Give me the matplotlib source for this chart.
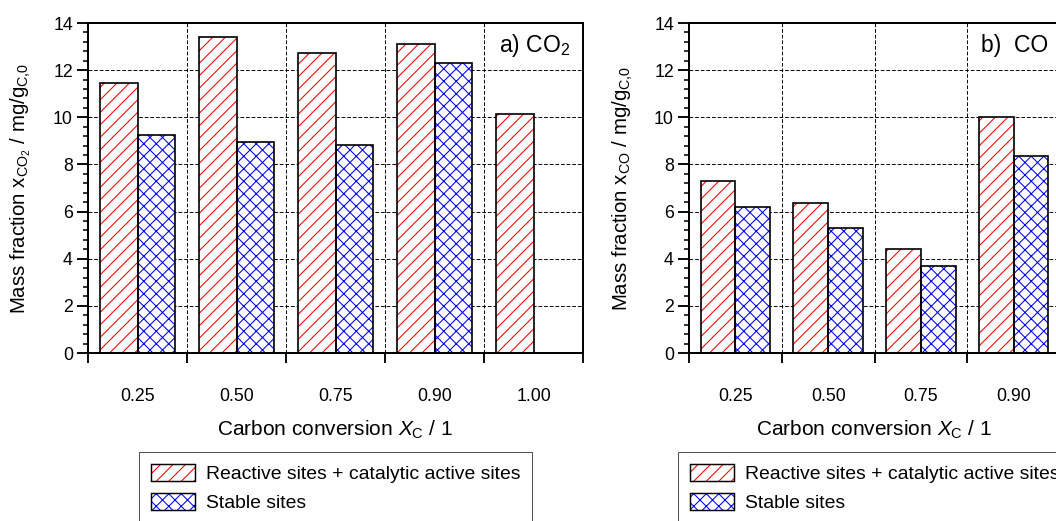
import numpy as np
import matplotlib
import matplotlib.pyplot as plt
from matplotlib.patches import Patch
from matplotlib.ticker import MultipleLocator, FixedLocator

matplotlib.use('Agg')

# Datos
conversion_co2 = ['0.25', '0.50', '0.75', '0.90', '1.00']
co2_reactive = [11.45, 13.40, 12.73, 13.10, 10.12]
co2_stable = [9.24, 8.96, 8.82, 12.32, np.nan]

conversion_co = ['0.25', '0.50', '0.75', '0.90']
co_reactive = [7.30, 6.38, 4.40, 10.00]
co_stable = [6.18, 5.32, 3.71, 8.37]

legend_labels = ['Reactive sites + catalytic active sites', 'Stable sites']

plt.rcParams['font.family'] = 'Liberation Sans'
plt.rcParams['mathtext.fontset'] = 'custom'
plt.rcParams['mathtext.rm'] = 'Liberation Sans'
plt.rcParams['mathtext.it'] = 'Liberation Sans:italic'
plt.rcParams['hatch.linewidth'] = 1.0

DPI = 75
W, H = 1056, 521
fig = plt.figure(figsize=(W / DPI, H / DPI), dpi=DPI)

bar_w = 0.375
tick_fs = 17
label_fs = 19.5


def draw_panel(ax, cats, reactive, stable, ylabel, tag):
    x = np.arange(len(cats))
    # relleno con hatch (rojo / azul) y luego el contorno negro
    ax.bar(x - bar_w / 2, reactive, bar_w, facecolor='white', edgecolor='red', hatch='//', linewidth=0, zorder=2)
    ax.bar(x + bar_w / 2, stable, bar_w, facecolor='white', edgecolor='blue', hatch='xx', linewidth=0, zorder=2)
    ax.bar(x - bar_w / 2, reactive, bar_w, fill=False, edgecolor='black', linewidth=1.6, zorder=3)
    ax.bar(x + bar_w / 2, stable, bar_w, fill=False, edgecolor='black', linewidth=1.6, zorder=3)

    ax.set_xlim(-0.5, len(cats) - 0.5)
    ax.set_ylim(0, 14)

    # ticks del eje x en los limites de grupo, etiquetas en el centro
    ax.xaxis.set_major_locator(FixedLocator(np.arange(len(cats) + 1) - 0.5))
    ax.xaxis.set_minor_locator(FixedLocator(x))
    ax.set_xticklabels([], minor=False)
    ax.set_xticklabels(cats, minor=True)
    ax.tick_params(axis='x', which='major', direction='out', length=10, width=1.8)
    ax.tick_params(axis='x', which='minor', length=0, pad=34, labelsize=tick_fs)

    ax.yaxis.set_major_locator(MultipleLocator(2))
    ax.yaxis.set_minor_locator(MultipleLocator(0.4))
    ax.tick_params(axis='y', which='major', direction='out', length=10.5, width=1.8, pad=4, labelsize=tick_fs)
    ax.tick_params(axis='y', which='minor', direction='out', length=5, width=1.5)

    ax.grid(True, which='major', color='black', linestyle=(0, (4, 2)), linewidth=0.9)
    ax.set_axisbelow(True)
    for s in ax.spines.values():
        s.set_linewidth(1.9)

    ax.set_ylabel(ylabel, fontsize=label_fs)
    ax.set_xlabel(r'Carbon conversion $X_\mathrm{C}$ / 1', fontsize=20)
    ax.xaxis.set_label_coords(0.5, -0.2)

    ax.text(len(cats) - 1.5 + 0.15, 13.05, tag, fontsize=22, ha='left', va='center', zorder=4)

    # leyenda debajo del grafico (proxies con hatch + contorno)
    h1 = (Patch(facecolor='white', edgecolor='red', hatch='//', linewidth=0),
          Patch(fill=False, edgecolor='black', linewidth=1.4))
    h2 = (Patch(facecolor='white', edgecolor='blue', hatch='xx', linewidth=0),
          Patch(fill=False, edgecolor='black', linewidth=1.4))
    leg = ax.legend([h1, h2], legend_labels, loc='upper center', bbox_to_anchor=(0.5, -0.3),
                    fontsize=18.6, handlelength=2.3, handleheight=1.0, handletextpad=0.55,
                    borderpad=0.6, labelspacing=0.5, fancybox=False, framealpha=1,
                    borderaxespad=0)
    leg.get_frame().set_edgecolor('#444444')
    leg.get_frame().set_linewidth(0.9)


ax1 = fig.add_axes([88 / W, (H - 353) / H, 495 / W, 330 / H])
ax2 = fig.add_axes([689 / W, (H - 353) / H, 371 / W, 330 / H])

draw_panel(ax1, conversion_co2, co2_reactive, co2_stable,
           r'Mass fraction x$_{\mathrm{CO}_2}$ / mg/g$_{\mathrm{C{,}0}}$', r'a) CO$_2$')
draw_panel(ax2, conversion_co, co_reactive, co_stable,
           r'Mass fraction x$_{\mathrm{CO}}$ / mg/g$_{\mathrm{C{,}0}}$', 'b)  CO')

# posicion de las etiquetas del eje y (borde derecho del texto girado)
ax1.yaxis.set_label_coords((33 - 88) / 495, 0.5)
ax2.yaxis.set_label_coords((635 - 689) / 371, 0.5)

plt.savefig('out.png', dpi=DPI)
plt.close()
